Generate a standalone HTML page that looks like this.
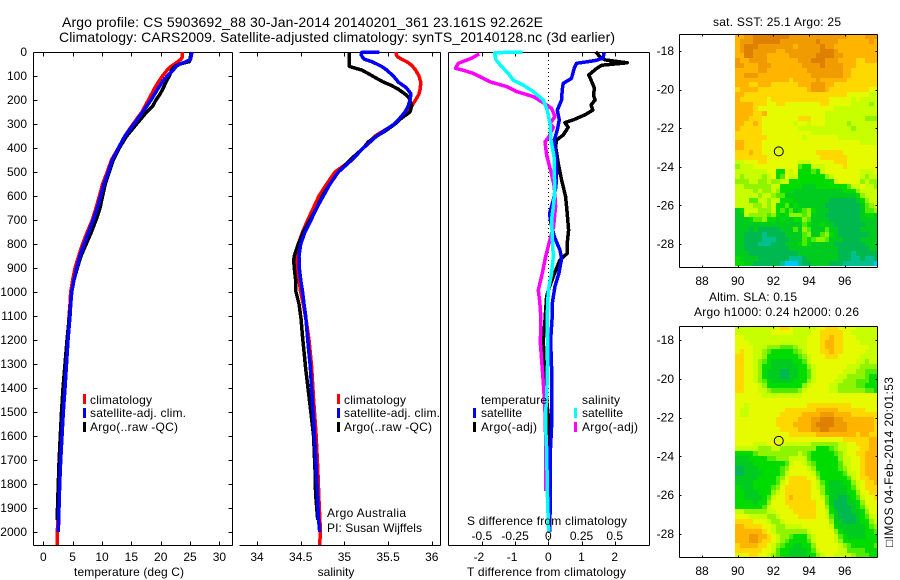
<!DOCTYPE html>
<html>
<head>
<meta charset="utf-8">
<title>Argo profile</title>
<style>
html,body{margin:0;padding:0;background:#fff;}
svg{display:block;}
text{font-family:"Liberation Sans",Arial,sans-serif;font-size:12px;fill:#000;}
line,path,rect.c{shape-rendering:crispEdges;}
</style>
</head>
<body>
<svg id="chart" xmlns="http://www.w3.org/2000/svg" width="900" height="580" viewBox="0 0 900 580">
<rect width="900" height="580" fill="#fff"/>
<defs>
<clipPath id="clip-sst"><rect x="679" y="34" width="198" height="233"/></clipPath>
<clipPath id="clip-sla"><rect x="679" y="326" width="198" height="231"/></clipPath>
</defs>
<text x="62" y="27" style="font-size:14px" textLength="481">Argo profile: CS 5903692_88 30-Jan-2014 20140201_361 23.161S 92.262E</text>
<text x="59" y="42" style="font-size:14px" textLength="556">Climatology: CARS2009. Satellite-adjusted climatology: synTS_20140128.nc (3d earlier)</text>

<g id="p1"></g>
<g id="p2"></g>
<g id="p3"></g>
<g id="m1"></g>
<g id="m2"></g>

<text x="74" y="576" textLength="110">temperature (deg C)</text>
<text x="336" y="576" text-anchor="middle">salinity</text>
<text x="467" y="576" textLength="159">T difference from climatology</text>
<text x="467" y="525" textLength="160">S difference from climatology</text>

<g>
<rect x="83" y="394" width="3" height="10" fill="#f00"/>
<rect x="83" y="408" width="3" height="10" fill="#00f"/>
<rect x="83" y="422" width="3" height="10" fill="#000"/>
<text x="90" y="404" textLength="62">climatology</text>
<text x="90" y="417" textLength="96">satellite-adj. clim.</text>
<text x="90" y="431" textLength="88">Argo(..raw -QC)</text>
</g>
<g>
<rect x="337" y="394" width="3" height="10" fill="#f00"/>
<rect x="337" y="408" width="3" height="10" fill="#00f"/>
<rect x="337" y="422" width="3" height="10" fill="#000"/>
<text x="344" y="404" textLength="62">climatology</text>
<text x="344" y="417" textLength="96">satellite-adj. clim.</text>
<text x="344" y="431" textLength="88">Argo(..raw -QC)</text>
<text x="327" y="517" textLength="79">Argo Australia</text>
<text x="327" y="532" textLength="95">PI: Susan Wijffels</text>
</g>
<g>
<text x="481" y="404" textLength="66">temperature</text>
<rect x="473" y="408" width="3" height="10" fill="#00f"/>
<rect x="473" y="422" width="3" height="10" fill="#000"/>
<text x="481" y="417" textLength="41">satellite</text>
<text x="481" y="431" textLength="56">Argo(-adj)</text>
<text x="582" y="404" textLength="38">salinity</text>
<rect x="574" y="408" width="3" height="10" fill="#0ff"/>
<rect x="574" y="422" width="3" height="10" fill="#f0f"/>
<text x="582" y="417" textLength="41">satellite</text>
<text x="582" y="431" textLength="56">Argo(-adj)</text>
</g>

<text x="713" y="26" textLength="128">sat. SST: 25.1 Argo: 25</text>
<text x="709" y="301" textLength="88">Altim. SLA: 0.15</text>
<text x="694" y="316" textLength="165">Argo h1000: 0.24 h2000: 0.26</text>
<text transform="translate(893,547) rotate(-90)" textLength="170">□IMOS 04-Feb-2014 20:01:53</text>
</svg>

<script>
// ---------- Temperature panel data ----------
const climTempDepth=[0,20,30,50,60,75,100,125,150,200,250,300,350,400,450,500,550,600,650,700,750,800,850,900,950,1000,1050,1100,1200,1300,1400,1500,1600,1700,1800,1900,2000,2055];
const climTemp=[23.7,23.7,23.46,22.4,21.75,21.1,20.3,19.6,19.0,17.9,16.8,15.3,13.9,12.8,11.6,10.9,10.1,9.55,8.98,8.35,7.5,6.7,6.03,5.4,5.0,4.66,4.55,4.4,4.15,3.85,3.6,3.3,3.0,2.8,2.65,2.5,2.4,2.38];
const satTempDepth=[0,20,30,40,50,60,75,100,125,150,200,250,300,350,400,450,500,550,600,650,700,750,800,850,900,950,1000,1050,1100,1200,1300,1400,1500,1600,1700,1800,1900,2000];
const satTemp=[25.33,25.16,25.1,24.4,23.3,22.6,22.15,21.1,20.3,19.6,18.35,16.93,15.45,13.9,12.8,11.76,11.08,10.34,9.77,9.2,8.5,7.73,6.93,6.25,5.68,5.23,4.83,4.66,4.55,4.2,3.95,3.7,3.4,3.19,2.96,2.79,2.67,2.56];
const argoTempDepth=[0,30,40,50,60,75,100,125,150,175,200,225,250,275,300,350,400,450,500,550,600,650,700,750,800,850,900,950,1000,1100,1200,1300,1400,1500,1600,1700,1800,1900,1950];
const argoTemp=[25.16,25,24.88,23.3,22.4,21.87,21.47,20.9,20.45,19.9,19.2,18.63,17.6,16.76,15.9,14.2,12.95,11.93,11.25,10.57,10.1,9.66,8.98,8.2,7.3,6.42,5.8,5.23,4.83,4.44,4.04,3.7,3.35,3.1,2.9,2.7,2.55,2.42,2.35];

// ---------- Salinity panel data ----------
const climSalDepth=[0,10,20,30,40,50,60,75,100,125,150,175,200,225,250,275,300,350,400,450,500,550,600,650,700,750,800,850,900,950,1000,1050,1130,1200,1310,1450,1590,1730,1870,1995,2055];
const climSal=[35.59,35.59,35.61,35.655,35.71,35.75,35.78,35.815,35.854,35.873,35.869,35.854,35.815,35.77,35.712,35.636,35.579,35.35,35.217,35.083,34.892,34.797,34.709,34.645,34.58,34.522,34.473,34.454,34.465,34.481,34.5,34.53,34.568,34.595,34.625,34.648,34.675,34.694,34.709,34.725,34.717];
const satSalDepth=[0,2,10,20,30,40,50,60,75,100,125,150,175,200,225,250,275,300,350,400,450,500,550,600,650,700,750,800,850,900,950,1000,1050,1100,1200,1310,1450,1520,1660,1800,1940,2000];
const satSal=[35.4,35.198,35.19,35.205,35.228,35.312,35.369,35.426,35.484,35.56,35.617,35.712,35.762,35.751,35.731,35.693,35.636,35.571,35.369,35.217,35.083,34.931,34.835,34.759,34.683,34.618,34.549,34.5,34.481,34.484,34.5,34.522,34.538,34.557,34.58,34.61,34.633,34.645,34.667,34.686,34.702,34.717];
const argoSalDepth=[0,30,60,65,75,90,110,125,140,155,175,190,200,225,250,275,300,330,350,375,400,450,500,550,600,650,700,750,800,850,870,900,950,1000,1050,1110,1180,1320,1460,1600,1740,1840,1950];
const argoSal=[35.056,35.056,35.056,35.102,35.198,35.274,35.369,35.445,35.541,35.617,35.693,35.739,35.747,35.77,35.751,35.655,35.579,35.465,35.369,35.274,35.217,35.064,34.931,34.835,34.748,34.683,34.606,34.53,34.473,34.427,34.42,34.427,34.442,34.446,34.481,34.503,34.519,34.557,34.603,34.648,34.664,34.671,34.694];

// ---------- Difference panel data ----------
const diffArgoTDepth=[0,20,33,42,45,55,68,96,124,151,179,200,221,242,262,283,294,314,346,367,394,464,533,603,672,742,797,839,867,894,936,992,1019,1117,1200,1320,1400,1520,1660];
const diffArgoT=[1.43,1.56,1.71,2.21,2.38,1.61,1.46,1.22,1.31,1.39,1.36,1.41,1.29,1.34,1.10,0.75,0.50,0.60,0.45,0.25,0.22,0.30,0.40,0.52,0.57,0.61,0.57,0.57,0.35,0.27,0.15,0,-0.05,-0.10,-0.15,-0.12,-0.08,0,0.01];
const diffSatTDepth=[3,26,36,47,68,110,131,158,200,242,283,325,367,436,506,561,617,672,714,769,825,860,922,978,1047,1117,1200,1320,1460,1557,1667,1875,2000];
const diffSatT=[1.68,1.65,1.41,0.85,0.78,0.70,0.45,0.42,0.40,0.27,0.33,0.27,0.18,0.23,0.25,0.23,0.15,0.04,0.08,0.18,0.35,0.40,0.32,0.20,0.12,0.11,0.07,0.10,0.10,0.10,0.06,0.06,0.04];
const diffArgoSDepth=[8,26,47,68,78,89,110,124,144,165,186,207,235,269,297,314,353,374,429,499,561,644,728,797,853,922,992,1047,1117,1210,1320,1400,1497,1650,1830];
const diffArgoS=[-0.52,-0.577,-0.678,-0.698,-0.628,-0.565,-0.489,-0.439,-0.314,-0.238,-0.113,-0.05,0.025,0.05,0.013,0.038,0.005,-0.025,-0.013,0.02,0.045,0.055,0.04,0.005,-0.02,-0.045,-0.075,-0.063,-0.055,-0.06,-0.045,-0.035,-0.025,-0.018,-0.02];
const diffSatSDepth=[0,3,12,33,61,89,117,138,165,200,242,297,367,436,506,575,644,700,769,853,922,992,1061,1117,1240,1390,1490,1557,1650,1875,2000];
const diffSatS=[-0.196,-0.402,-0.402,-0.394,-0.351,-0.301,-0.264,-0.188,-0.113,-0.038,-0.008,0.013,0.02,0.043,0.045,0.05,0.038,0.025,0.03,0.038,0.025,0,-0.005,-0.008,-0.003,-0.01,-0.018,-0.02,-0.013,-0.005,0.003];

// ---------- Tick labels ----------
const depthTicks=[0,100,200,300,400,500,600,700,800,900,1000,1100,1200,1300,1400,1500,1600,1700,1800,1900,2000];
const tempTicks=[0,5,10,15,20,25,30];
const salTicks=[34,34.5,35,35.5,36];
const diffTTicks=[-2,-1,0,1,2];
const diffSTicks=[-0.5,-0.25,0,0.25,0.5];
const lonTicks=[88,90,92,94,96];
const latTicks=[-18,-20,-22,-24,-26,-28];
const profileLon=92.3;
const profileLat=-23.2;

// ---------- Map cells: colour level per 0.25 degree cell, rows north to south, from 90E ----------
const sstLevels=[
[10,10,11,11,12,12,12,12,12,12,12,12,11,11,11,11,11,11,11,11,11,11,11,11,11,10,10,10,10,11,11,11],
[10,11,11,11,12,12,12,12,12,12,11,11,11,11,11,11,11,11,12,11,11,11,11,10,10,10,10,10,10,10,11,10],
[10,11,12,12,12,11,11,11,11,11,11,11,11,10,11,11,11,11,11,12,11,11,10,10,10,10,10,10,10,10,10,10],
[10,11,12,12,11,11,11,11,11,10,10,11,11,11,11,11,11,11,11,12,12,12,11,10,10,10,10,10,10,10,10,10],
[10,10,12,12,11,11,11,10,10,10,10,10,11,11,11,11,11,11,12,12,12,12,11,11,10,10,10,10,10,10,10,10],
[11,10,10,11,11,11,11,10,10,10,10,10,10,10,11,11,11,12,12,12,11,11,11,10,10,10,10,9,9,10,10,10],
[11,11,10,10,10,11,11,11,10,10,10,10,10,10,10,11,11,11,11,12,11,11,11,11,10,10,10,9,9,9,9,9],
[10,10,10,10,10,11,11,10,10,10,10,10,10,10,10,10,11,11,11,11,11,11,11,11,10,10,9,9,9,9,9,9],
[10,10,11,11,11,10,10,10,10,10,10,10,10,10,10,10,10,11,11,11,11,11,11,11,10,10,9,9,9,9,9,9],
[10,10,10,10,10,10,10,10,10,10,10,10,9,10,10,10,10,10,11,10,10,10,10,10,10,9,9,9,9,9,9,9],
[10,10,10,9,9,10,10,10,9,9,9,9,9,9,10,10,10,11,11,11,10,10,9,9,9,9,9,9,9,9,9,9],
[9,10,10,10,10,9,9,9,9,9,9,9,9,9,9,9,10,11,11,11,10,9,9,9,9,9,9,9,9,9,8,8],
[10,10,9,9,9,9,9,9,9,9,9,9,9,9,9,9,9,9,9,9,9,9,9,9,9,8,8,8,8,8,7,7],
[10,9,9,9,9,9,9,8,9,9,9,9,9,9,9,9,9,9,9,9,9,8,8,8,8,8,7,8,7,7,7,7],
[10,10,10,10,9,9,9,8,8,9,9,8,8,8,8,8,8,8,8,9,9,8,8,8,8,8,7,7,7,7,6,7],
[10,10,10,10,9,8,8,8,8,8,8,8,8,8,8,8,8,8,8,8,8,8,7,7,7,7,7,7,7,7,7,7],
[10,10,10,10,9,9,10,8,8,8,8,8,8,8,8,8,8,8,8,8,7,7,7,7,7,7,7,7,7,7,7,7],
[10,10,10,9,9,9,8,8,8,8,8,8,8,8,9,9,9,8,8,8,7,7,7,7,7,7,7,7,7,6,6,6],
[10,10,9,9,10,9,8,8,8,8,8,8,8,7,8,8,7,8,8,8,7,7,7,7,7,6,7,7,7,7,7,7],
[10,9,9,9,9,9,8,8,8,8,8,8,8,8,7,7,7,7,7,7,7,7,7,7,7,7,6,7,7,7,7,7],
[9,9,9,9,9,9,8,8,8,8,8,8,8,8,8,8,8,7,7,7,7,7,7,7,7,7,7,7,7,7,7,7],
[9,9,9,9,9,9,9,8,8,8,8,8,8,8,8,7,8,8,8,8,8,8,8,7,7,7,7,7,7,7,7,7],
[10,10,9,9,9,9,8,8,8,8,8,8,8,8,8,8,8,8,8,8,8,8,8,8,8,8,8,8,7,7,7,7],
[10,10,9,9,9,9,8,8,8,8,8,8,8,8,8,8,8,8,8,8,8,8,8,8,8,8,8,8,8,8,8,8],
[9,9,9,10,9,9,8,8,8,8,8,8,8,8,8,8,8,8,9,9,9,9,9,9,8,8,8,8,8,8,8,8],
[9,9,9,9,9,9,9,8,8,8,8,8,8,8,8,8,8,8,8,9,9,9,9,9,9,8,8,8,8,8,8,8],
[7,7,8,8,8,9,9,8,8,8,8,8,8,8,7,7,7,8,8,8,8,8,9,9,9,8,8,8,8,8,8,8],
[6,7,7,7,8,8,8,8,8,8,8,8,8,8,5,4,4,7,7,7,8,8,8,8,9,8,8,8,8,8,8,8],
[7,7,7,7,7,7,7,8,8,4,4,8,7,8,4,4,4,5,4,7,8,8,8,8,8,8,8,8,7,7,7,8],
[7,6,7,7,7,7,6,7,8,4,5,8,7,7,4,4,4,4,4,4,6,7,8,8,8,8,8,8,7,6,7,7],
[6,6,6,7,7,6,6,7,6,6,7,7,4,4,4,4,4,4,4,4,4,4,7,8,8,8,8,8,6,7,6,6],
[7,7,6,6,6,6,6,6,7,7,4,4,4,4,4,3,3,3,4,4,4,4,4,4,4,5,7,7,8,7,7,6],
[7,7,7,7,6,7,6,6,7,6,4,4,4,3,3,3,3,3,3,3,3,3,3,3,4,4,4,6,7,7,7,7],
[7,7,7,7,7,6,7,7,6,5,5,3,3,3,3,3,3,3,3,3,3,3,3,3,3,3,3,4,6,7,7,7],
[7,7,7,5,5,7,7,6,7,7,4,4,4,3,3,3,3,3,3,3,3,2,2,2,2,2,2,3,4,6,7,7],
[7,7,7,7,6,6,7,6,7,4,4,5,3,4,3,3,3,3,3,3,2,2,2,2,2,2,2,2,3,5,6,7],
[3,4,7,7,7,6,6,6,7,4,5,4,5,3,4,5,6,4,3,3,3,2,2,2,2,2,2,2,3,5,5,6],
[3,3,7,6,6,6,6,5,6,4,3,4,6,6,6,5,6,3,3,3,2,2,2,2,2,2,2,2,3,4,4,3],
[3,3,3,4,5,5,6,4,4,3,4,3,3,4,4,6,5,3,3,3,3,2,2,2,2,2,2,2,3,3,3,3],
[3,3,3,3,3,3,3,3,3,3,3,3,3,3,3,5,4,3,3,4,3,3,2,2,2,2,2,2,2,3,3,3],
[3,3,3,2,3,2,2,2,2,2,3,3,3,5,3,6,5,3,3,3,5,3,3,2,2,2,2,2,3,3,3,3],
[3,3,2,2,2,2,1,2,2,2,2,3,3,3,3,5,6,3,3,5,6,4,3,2,2,2,2,2,2,2,3,3],
[3,3,2,2,2,2,1,1,1,2,2,2,3,3,3,5,4,5,6,6,5,3,3,3,2,2,2,2,3,3,3,3],
[3,3,2,2,2,1,1,1,2,2,2,3,3,3,4,5,4,3,3,3,3,3,2,2,2,2,2,2,2,3,3,3],
[3,3,2,2,2,2,2,2,2,2,2,2,3,3,3,3,3,3,3,3,3,3,3,2,2,2,2,2,2,2,3,3],
[3,3,3,2,2,2,2,2,2,2,2,2,2,2,3,3,3,3,3,3,3,3,3,2,2,2,1,2,2,2,2,2],
[4,3,3,3,3,2,2,2,2,2,2,2,1,1,1,2,3,3,3,3,3,3,3,2,2,2,1,1,2,1,1,2],
[4,4,3,3,2,2,2,2,2,2,1,0,0,0,1,2,2,3,3,3,3,2,2,2,1,1,1,1,1,1,1,0]
];
const slaLevels=[
[7,7,7,7,7,7,7,7,7,8,9,9,8,7,7,7,7,7,8,8,9,9,9,8,8,8,8,7,7,7,7,7],
[7,7,7,7,7,7,7,7,8,8,8,8,8,7,7,7,7,8,8,9,9,9,9,9,8,8,7,7,7,7,7,7],
[8,8,7,7,7,7,7,7,7,7,7,7,7,7,7,7,8,8,8,9,9,10,9,9,8,8,8,7,7,7,7,7],
[8,8,8,7,7,7,7,7,7,7,7,7,7,7,7,7,8,8,8,9,10,10,9,9,8,8,8,8,7,7,7,7],
[8,8,8,8,7,7,7,6,6,6,5,5,5,6,7,7,8,8,8,9,10,10,9,9,8,8,8,8,8,8,7,7],
[8,9,8,8,7,7,6,5,4,4,4,4,4,5,6,7,8,8,8,9,9,10,9,9,8,8,8,8,8,7,7,7],
[9,9,8,8,7,7,6,4,4,4,4,4,4,4,5,6,7,8,8,8,9,9,9,8,8,8,8,8,7,7,7,7],
[9,9,8,8,7,6,5,4,3,3,3,3,3,4,4,5,7,8,8,8,8,8,8,8,8,8,8,7,7,6,7,7],
[9,9,8,8,7,6,4,4,3,3,3,3,3,3,4,4,6,7,8,8,8,8,8,8,8,7,7,7,6,6,6,6],
[9,9,8,8,7,6,4,3,3,3,2,2,3,3,4,4,5,7,8,8,8,8,8,8,7,7,7,6,6,5,5,5],
[9,9,8,8,7,6,4,3,3,3,2,2,3,3,4,4,5,7,8,8,8,8,8,7,7,6,6,6,6,5,4,4],
[9,9,8,8,7,6,5,4,3,3,3,3,3,4,4,4,6,7,8,8,8,8,7,7,6,6,6,5,5,5,4,4],
[9,9,8,8,8,7,6,4,4,4,4,4,4,4,4,6,7,8,8,8,8,7,7,6,6,6,6,5,5,4,4,4],
[9,9,8,8,8,7,7,6,5,5,5,5,5,5,6,7,8,8,8,8,8,7,7,6,6,6,6,6,6,5,5,4],
[8,8,8,8,8,8,7,7,7,7,7,7,7,7,7,8,8,8,8,8,8,8,8,8,8,8,8,8,8,8,8,8],
[8,8,8,8,8,8,8,8,8,8,8,8,8,8,8,8,8,8,8,8,8,8,8,8,8,8,8,8,8,8,8,8],
[8,8,7,8,8,8,8,8,8,8,8,8,8,8,8,8,9,9,9,9,9,9,9,9,9,9,8,8,8,8,8,8],
[8,7,7,8,8,8,8,8,8,8,8,9,9,9,9,9,9,9,10,10,10,10,10,9,9,9,9,9,9,8,8,8],
[8,7,7,8,8,8,8,8,8,8,9,9,9,9,9,10,10,10,10,11,11,11,10,10,10,10,9,9,9,9,9,9],
[8,8,8,8,8,8,8,8,8,9,9,9,9,9,10,10,10,11,11,12,12,12,11,11,10,10,10,10,10,10,10,9],
[8,8,8,8,8,8,8,8,8,9,9,9,9,10,10,10,10,11,12,12,12,12,11,11,11,10,10,10,10,10,10,9],
[8,8,8,8,8,8,8,8,8,8,9,9,9,9,10,10,10,11,11,12,12,11,11,11,11,10,10,10,10,10,10,9],
[8,8,8,8,8,8,8,8,8,8,8,8,9,9,9,9,9,9,10,10,10,10,10,10,10,10,10,9,10,10,9,9],
[8,8,8,8,8,8,8,8,8,8,8,8,8,8,8,8,8,8,8,8,8,8,8,8,9,9,9,9,9,9,10,10],
[8,8,8,8,7,7,7,8,8,8,8,7,7,7,7,7,7,6,6,6,6,6,6,7,7,8,8,9,9,9,10,10],
[7,7,7,7,7,6,6,6,7,7,6,6,6,6,6,6,6,6,4,4,4,5,6,7,7,8,8,8,9,9,10,10],
[4,4,4,4,5,6,6,6,6,6,6,6,6,6,7,6,5,4,4,4,4,4,5,6,7,8,8,9,9,10,10,10],
[3,3,3,4,4,4,4,5,5,6,6,6,7,7,7,7,5,4,4,4,4,4,4,6,7,7,8,8,9,10,10,10],
[3,3,3,3,4,4,4,4,4,4,4,5,7,8,8,7,6,5,4,4,4,4,4,5,7,7,8,8,9,10,10,10],
[2,2,3,3,3,4,4,4,4,4,5,6,8,8,8,8,7,6,4,4,4,4,4,5,6,7,8,8,9,10,10,10],
[2,2,3,3,3,3,4,4,4,4,5,7,8,8,8,8,8,7,5,4,4,4,4,4,5,7,7,8,9,10,10,10],
[3,3,3,3,3,4,4,4,4,5,6,8,9,9,9,9,8,8,6,4,4,4,4,4,4,5,7,8,9,9,10,10],
[3,3,3,3,4,4,4,4,4,5,7,8,9,9,9,9,9,8,7,5,4,3,3,3,4,4,6,7,8,9,9,10],
[4,3,3,3,4,4,4,4,5,6,8,9,9,9,9,9,9,8,7,6,4,3,3,3,3,4,5,7,8,9,9,9],
[4,4,3,3,3,4,4,4,6,7,8,9,9,9,9,9,9,8,8,6,4,3,3,3,3,4,4,6,8,8,9,9],
[4,4,3,3,3,3,4,5,7,8,8,9,10,9,9,9,9,8,8,7,5,3,3,2,2,3,4,5,7,8,8,9],
[4,4,4,4,3,4,4,6,8,8,8,9,9,9,9,9,9,9,8,8,5,3,2,2,2,3,3,4,6,8,8,8],
[4,4,4,4,4,4,5,7,8,8,8,8,9,9,9,9,9,9,8,8,6,4,2,2,2,2,3,4,5,7,8,8],
[7,7,6,6,6,6,6,7,7,8,8,8,8,9,9,9,9,9,8,8,7,4,3,2,2,2,3,3,4,6,8,8],
[8,8,8,7,7,7,7,6,6,7,8,8,8,8,9,9,9,9,8,8,7,5,3,2,2,2,2,3,4,5,7,7],
[9,9,9,9,8,8,8,7,6,6,7,8,8,8,8,8,8,8,8,8,8,6,3,3,2,2,2,3,4,4,6,7],
[10,10,9,9,9,9,8,8,7,6,6,7,7,7,7,8,8,8,8,8,8,7,4,3,3,3,3,3,3,4,5,6],
[10,10,10,10,10,10,9,8,7,6,6,6,6,6,6,6,7,8,8,8,8,8,6,4,3,3,3,3,3,4,4,5],
[10,10,10,11,11,10,10,9,8,7,6,6,5,4,4,4,6,7,8,8,8,8,7,5,4,3,3,3,3,4,4,4],
[10,10,10,11,11,10,9,9,8,7,6,5,4,4,4,4,5,7,8,8,8,8,7,6,4,4,4,4,4,4,4,4],
[9,10,10,10,10,9,9,8,7,6,5,4,4,3,3,4,4,6,8,8,8,8,8,7,6,5,4,4,4,4,4,5],
[9,9,9,9,9,9,8,8,7,5,4,4,3,3,3,3,4,5,7,8,8,8,8,7,7,5,5,5,5,4,4,4],
[8,8,8,9,9,8,8,7,6,5,4,4,3,3,3,3,4,4,6,7,8,8,7,7,7,7,6,5,5,5,4,4]
];
const levelColors=["#00c8ff","#00c090","#00b850","#00cc20","#00dc00","#50ec00","#90f400","#c8ff00","#e6fa00","#ffd800","#ffb400","#f09c00","#e08000"];

// ---------- Axis functions ----------
function depthY(d){return 52+d*0.24;}
function tempX(t){return 43.3+t*5.87;}
function salX(s){return 257+(s-34)*87.4;}
function diffTX(t){return 548.3+t*33.2;}
function diffSX(s){return 548.3+s*4*33.2;}
function lonX(l){return 702+(l-88)*17.85;}
function lat1Y(a){return 51+(-18-a)*19.3;}
function lat2Y(a){return 340+(-18-a)*19.4;}

const NS='http://www.w3.org/2000/svg';
function make(parent,tag,props){
  const e=document.createElementNS(NS,tag);
  for(const k in props){e.setAttribute(k,props[k]);}
  parent.appendChild(e);
  return e;
}
function seg(parent,x1,y1,x2,y2,name){
  const e=make(parent,'line',{x1:Math.round(x1)+0.5,y1:Math.round(y1)+0.5,x2:Math.round(x2)+0.5,y2:Math.round(y2)+0.5,stroke:'#000','stroke-width':1});
  
  
  return e;
}
function label(parent,x,y,str,anchor,name){
  const e=make(parent,'text',{x:x,y:y,'text-anchor':anchor});
  e.textContent=str;
  
  
  return e;
}
function curve(parent,xs,ds,xf,color,name){
  const d=xs.map((v,i)=>(i?'L':'M')+xf(v).toFixed(1)+' '+depthY(ds[i]).toFixed(1)).join('');
  const e=make(parent,'path',{d:d,fill:'none',stroke:color,'stroke-width':3.5,'stroke-linejoin':'round'});
  e.style.shapeRendering='crispEdges';
  
  
  return e;
}
function fmt(n){return String(n);}

// ---------- Temperature panel ----------
const p1=document.getElementById('p1');
seg(p1,33,52,232,52,'top-axis-line');
seg(p1,33,545,232,545,'x-axis-line');
seg(p1,33,52,33,545,'y-axis-line');
seg(p1,232,52,232,545,'right-axis-line');
depthTicks.forEach(d=>{
  seg(p1,33,depthY(d),37,depthY(d),'depth-tick');
  seg(p1,228,depthY(d),232,depthY(d),'depth-tick-right');
  label(p1,27,depthY(d)+4,fmt(d),'end','depth-tick-label');
});
tempTicks.forEach(t=>{
  seg(p1,tempX(t),52,tempX(t),56,'temperature-tick-top');
  seg(p1,tempX(t),541,tempX(t),545,'temperature-tick');
  label(p1,tempX(t),561,fmt(t),'middle','temperature-tick-label');
});
curve(p1,climTemp,climTempDepth,tempX,'#f00','climatology-temperature-line');
curve(p1,argoTemp,argoTempDepth,tempX,'#000','argo-temperature-line');
curve(p1,satTemp,satTempDepth,tempX,'#00f','satellite-temperature-line');

// ---------- Salinity panel ----------
const p2=document.getElementById('p2');
seg(p2,239,52,440,52,'top-axis-line');
seg(p2,239,545,440,545,'x-axis-line');
seg(p2,440,52,440,545,'right-axis-line');
salTicks.forEach(s=>{
  seg(p2,salX(s),52,salX(s),56,'salinity-tick-top');
  seg(p2,salX(s),541,salX(s),545,'salinity-tick');
  label(p2,salX(s),561,fmt(s),'middle','salinity-tick-label');
});
curve(p2,climSal,climSalDepth,salX,'#f00','climatology-salinity-line');
curve(p2,argoSal,argoSalDepth,salX,'#000','argo-salinity-line');
curve(p2,satSal,satSalDepth,salX,'#00f','satellite-salinity-line');

// ---------- Difference panel ----------
const p3=document.getElementById('p3');
seg(p3,448,52,649,52,'top-axis-line');
seg(p3,448,545,649,545,'x-axis-line');
seg(p3,448,52,448,545,'y-axis-line');
seg(p3,649,52,649,545,'right-axis-line');
const zeroLine=make(p3,'line',{x1:diffTX(0),y1:52,x2:diffTX(0),y2:545,stroke:'#000','stroke-width':1,'stroke-dasharray':'1 3'});


diffTTicks.forEach(t=>{
  seg(p3,diffTX(t),52,diffTX(t),56,'t-difference-tick-top');
  seg(p3,diffTX(t),541,diffTX(t),545,'t-difference-tick');
  label(p3,diffTX(t)-(t<0?3:0),561,t<0?'-'+Math.abs(t):fmt(t),'middle','t-difference-tick-label');
});
curve(p3,diffArgoT,diffArgoTDepth,diffTX,'#000','argo-t-difference-line');
curve(p3,diffSatT,diffSatTDepth,diffTX,'#00f','satellite-t-difference-line');
curve(p3,diffArgoS,diffArgoSDepth,diffSX,'#f0f','argo-s-difference-line');
curve(p3,diffSatS,diffSatSDepth,diffSX,'#0ff','satellite-s-difference-line');
diffSTicks.forEach(s=>{
  label(p3,diffSX(s),540,fmt(s),'middle','s-difference-tick-label');
});

// ---------- Maps ----------
function drawMap(groupId,levels,clipId,latY,top,bottom,cellName){
  const g=document.getElementById(groupId);
  const cells=make(g,'g',{'clip-path':'url(#'+clipId+')'});
  
  
  const north=latY===lat1Y?-17.125:-17.235;
  levels.forEach((row,r)=>{
    row.forEach((v,c)=>{
      const x0=Math.round(lonX(89.875+c*0.25));
      const x1=Math.round(lonX(89.875+(c+1)*0.25));
      const y0=Math.round(latY(north-r*0.25));
      const y1=Math.round(latY(north-(r+1)*0.25));
      const cell=make(cells,'rect',{x:x0,y:y0,width:x1-x0,height:y1-y0,fill:levelColors[v],'class':'c'});
      
      
    });
  });
  seg(g,679,top,877,top,'map-top-axis-line');
  seg(g,679,bottom,877,bottom,'map-x-axis-line');
  seg(g,679,top,679,bottom,'map-y-axis-line');
  seg(g,877,top,877,bottom,'map-right-axis-line');
  lonTicks.forEach(l=>{
    seg(g,lonX(l),top,lonX(l),top+2,'longitude-tick-top');
    seg(g,lonX(l),bottom-2,lonX(l),bottom,'longitude-tick');
    label(g,lonX(l),bottom+18,fmt(l),'middle','longitude-tick-label');
  });
  latTicks.forEach(a=>{
    seg(g,679,latY(a),681,latY(a),'latitude-tick');
    seg(g,875,latY(a),877,latY(a),'latitude-tick-right');
    label(g,674,latY(a)+4,fmt(a),'end','latitude-tick-label');
  });
  const ring=make(g,'circle',{cx:lonX(profileLon),cy:latY(profileLat),r:4.5,fill:'none',stroke:'#000','stroke-width':1});
  
  
}
drawMap('m1',sstLevels,'clip-sst',lat1Y,34,267,'sst-cell');
drawMap('m2',slaLevels,'clip-sla',lat2Y,326,557,'sla-cell');
</script>
</body>
</html>
